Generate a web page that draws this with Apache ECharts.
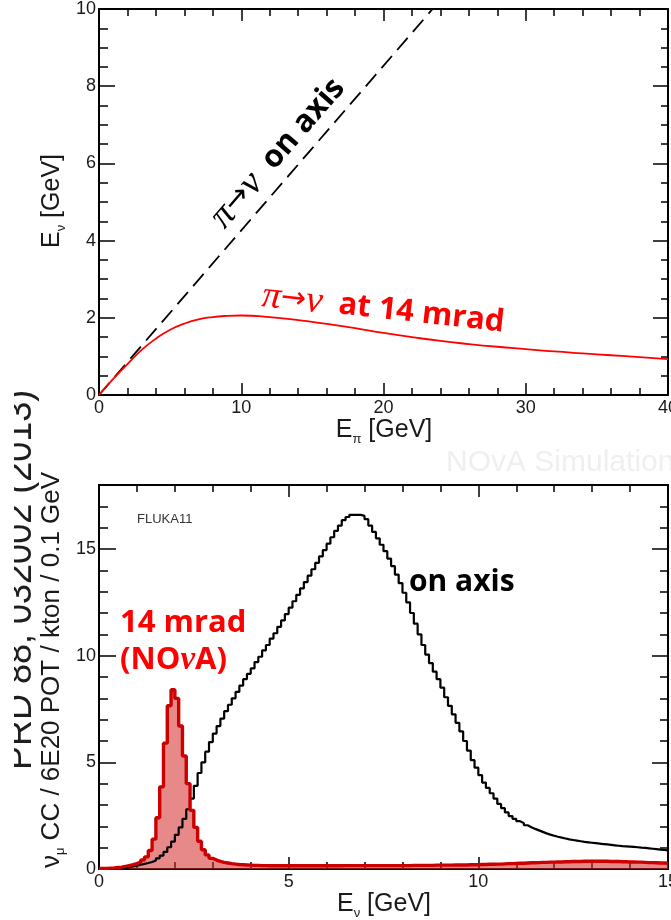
<!DOCTYPE html>
<html>
<head>
<meta charset="utf-8">
<script src="https://cdn.jsdelivr.net/npm/echarts@6.0.0/dist/echarts.min.js"></script>
<style>
html, body { margin: 0; padding: 0; background: #ffffff; }
#chart { width: 671px; height: 920px; }
</style>
</head>
<body>
<div id="chart"></div>
<script>
// ---- Top panel: neutrino energy from pion decay vs pion energy ----
const piEnergy = [0, 1, 2, 3, 4, 5, 6, 7, 8, 9, 10, 12, 14, 16, 18, 20, 22, 24, 26, 28, 30, 32, 34, 36, 38, 40];
const nuEnergy14mrad = [0, 0.42, 0.8, 1.17, 1.46, 1.69, 1.85, 1.96, 2.02, 2.05, 2.06, 2.02, 1.94, 1.84, 1.73, 1.61, 1.5, 1.4, 1.32, 1.25, 1.19, 1.13, 1.08, 1.03, 0.98, 0.93];
const onAxisPiEnergy = [0, 23.45];
const onAxisNuEnergy = [0, 10];

// ---- Bottom panel: nu_mu CC spectra, 0.1 GeV bins from 0 to 15 GeV ----
const binWidth = 0.1;
const onAxisCounts = [
  0, 0, 0, 0, 0.01, 0.02, 0.05, 0.08, 0.12, 0.16,
  0.2, 0.24, 0.28, 0.33, 0.4, 0.5, 0.63, 0.8, 1.02, 1.28,
  1.6, 1.95, 2.35, 2.8, 3.3, 3.9, 4.5, 5.0, 5.5, 5.95,
  6.35, 6.7, 7.05, 7.4, 7.7, 8.0, 8.3, 8.6, 8.9, 9.15,
  9.4, 9.7, 9.95, 10.25, 10.5, 10.8, 11.05, 11.35, 11.65, 11.95,
  12.25, 12.55, 12.85, 13.15, 13.45, 13.75, 14.05, 14.35, 14.65, 14.95,
  15.25, 15.55, 15.85, 16.1, 16.35, 16.5, 16.6, 16.6, 16.6, 16.55,
  16.4, 16.1, 15.8, 15.5, 15.2, 14.9, 14.55, 14.2, 13.8, 13.4,
  12.95, 12.5, 12.0, 11.5, 11.0, 10.5, 10.05, 9.65, 9.25, 8.9,
  8.5, 8.05, 7.65, 7.25, 6.85, 6.45, 6.0, 5.55, 5.1, 4.75,
  4.4, 4.05, 3.8, 3.55, 3.3, 3.05, 2.85, 2.65, 2.48, 2.35,
  2.24, 2.15, 2.05, 1.96, 1.88, 1.81, 1.74, 1.67, 1.61, 1.56,
  1.51, 1.47, 1.43, 1.39, 1.36, 1.33, 1.3, 1.27, 1.25, 1.23,
  1.21, 1.19, 1.17, 1.15, 1.13, 1.11, 1.09, 1.07, 1.06, 1.05,
  1.04, 1.02, 1.0, 0.99, 0.97, 0.95, 0.93, 0.91, 0.89, 0.87
];
const offAxisCounts = [
  0.03, 0.03, 0.04, 0.05, 0.07, 0.09, 0.12, 0.16, 0.2, 0.25,
  0.32, 0.42, 0.57, 0.87, 1.4, 2.4, 3.85, 5.9, 7.65, 8.4,
  8.0, 6.7, 5.3, 4.0, 2.75, 1.95, 1.3, 0.9, 0.66, 0.5,
  0.42, 0.36, 0.31, 0.28, 0.25, 0.23, 0.21, 0.2, 0.19, 0.18,
  0.17, 0.17, 0.16, 0.16, 0.15, 0.15, 0.15, 0.15, 0.15, 0.15,
  0.15, 0.15, 0.15, 0.15, 0.15, 0.15, 0.15, 0.15, 0.15, 0.15,
  0.15, 0.15, 0.15, 0.15, 0.16, 0.16, 0.16, 0.16, 0.16, 0.16,
  0.16, 0.16, 0.16, 0.16, 0.16, 0.16, 0.16, 0.16, 0.16, 0.16,
  0.16, 0.16, 0.17, 0.17, 0.17, 0.17, 0.17, 0.17, 0.18, 0.18,
  0.18, 0.18, 0.18, 0.19, 0.19, 0.19, 0.19, 0.2, 0.2, 0.2,
  0.21, 0.21, 0.22, 0.22, 0.23, 0.23, 0.24, 0.25, 0.25, 0.26,
  0.27, 0.27, 0.28, 0.29, 0.29, 0.3, 0.31, 0.31, 0.32, 0.32,
  0.33, 0.33, 0.34, 0.34, 0.35, 0.35, 0.35, 0.36, 0.36, 0.36,
  0.36, 0.36, 0.36, 0.36, 0.35, 0.35, 0.35, 0.34, 0.34, 0.33,
  0.33, 0.32, 0.32, 0.31, 0.3, 0.3, 0.29, 0.28, 0.28, 0.27
];

// Tick labels
const topXTicks = [0, 10, 20, 30, 40];
const topYTicks = [0, 2, 4, 6, 8, 10];
const bottomXTicks = [0, 5, 10, 15];
const bottomYTicks = [0, 5, 10, 15];

// Step-histogram points: left edge of each bin, plus the closing right edge
function histPoints(counts) {
  const pts = counts.map((v, i) => [+(i * binWidth).toFixed(2), v]);
  pts.push([+(counts.length * binWidth).toFixed(2), counts[counts.length - 1]]);
  return pts;
}

const SANS = "'Liberation Sans', Arial, sans-serif";
const BOLD = "'Open Sans', 'Liberation Sans', sans-serif";
const SERIF = "'Liberation Serif', 'DejaVu Serif', serif";
const ARROW = "'DejaVu Sans', sans-serif";

const tickStyle = { color: '#000', width: 1.5 };
const lineAxis = { show: true, onZero: false, lineStyle: { color: '#000', width: 2 } };
const labelStyle = { fontSize: 18, fontFamily: SANS, color: '#1a1a1a' };

function axis(o) {
  return Object.assign({
    type: 'value',
    axisLine: lineAxis,
    splitLine: { show: false },
    axisLabel: { show: false },
    minorTick: { show: false }
  }, o);
}

// rich text with a lowered small second token (axis titles)
function subTitle(main, sub, rest, size) {
  return {
    text: '{a|' + main + '}{b|' + sub + '}{a|' + rest + '}',
    align: 'center', verticalAlign: 'middle', fill: '#1a1a1a',
    rich: {
      a: { fontSize: size, fontFamily: SANS, fill: '#1a1a1a', lineHeight: 28, verticalAlign: 'top' },
      b: { fontSize: 13, fontFamily: SANS, fill: '#1a1a1a', lineHeight: 15, verticalAlign: 'bottom' }
    }
  };
}

// "pi -> nu" label prefix
function decayRich(color, textSize) {
  return {
    g: { fontSize: 38, fontFamily: SERIF, fontStyle: 'italic', fill: color },
    r: { fontSize: 30, fontFamily: ARROW, fill: color },
    t: { fontSize: textSize, fontFamily: BOLD, fontWeight: 'bold', fill: color }
  };
}

const option = {
  animation: false,
  backgroundColor: '#ffffff',
  grid: [
    { left: 99, top: 9, width: 569, height: 386, containLabel: false, outerBoundsMode: 'none' },
    { left: 99, top: 485, width: 569, height: 384, containLabel: false, outerBoundsMode: 'none' }
  ],
  xAxis: [
    axis({ gridIndex: 0, position: 'bottom', min: topXTicks[0], max: topXTicks[topXTicks.length - 1], interval: 10,
      axisTick: { inside: true, length: 12, lineStyle: tickStyle },
      minorTick: { show: true, splitNumber: 5, length: 7, lineStyle: tickStyle },
      axisLabel: Object.assign({ show: true, margin: 4, showMinLabel: true, showMaxLabel: true }, labelStyle) }),
    axis({ gridIndex: 0, position: 'top', min: 0, max: 40, interval: 10,
      axisTick: { inside: true, length: 12, lineStyle: tickStyle },
      minorTick: { show: true, splitNumber: 5, length: 7, lineStyle: tickStyle } }),
    axis({ gridIndex: 1, position: 'bottom', min: bottomXTicks[0], max: bottomXTicks[bottomXTicks.length - 1], interval: 5,
      axisTick: { inside: true, length: 12, lineStyle: tickStyle },
      minorTick: { show: true, splitNumber: 5, length: 7, lineStyle: tickStyle },
      axisLabel: Object.assign({ show: true, margin: 4, showMinLabel: true, showMaxLabel: true }, labelStyle) }),
    axis({ gridIndex: 1, position: 'top', min: 0, max: 15, interval: 5,
      axisTick: { inside: true, length: 12, lineStyle: tickStyle },
      minorTick: { show: true, splitNumber: 5, length: 7, lineStyle: tickStyle } })
  ],
  yAxis: [
    axis({ gridIndex: 0, position: 'left', min: topYTicks[0], max: topYTicks[topYTicks.length - 1], interval: 2,
      axisTick: { inside: true, length: 16, lineStyle: tickStyle },
      minorTick: { show: true, splitNumber: 4, length: 9, lineStyle: tickStyle },
      axisLabel: Object.assign({ show: true, margin: 3, showMinLabel: true, showMaxLabel: true }, labelStyle) }),
    axis({ gridIndex: 0, position: 'right', min: 0, max: 10, interval: 2,
      axisTick: { inside: true, length: 15, lineStyle: tickStyle },
      minorTick: { show: true, splitNumber: 4, length: 7, lineStyle: tickStyle } }),
    // bottom panel: minor ticks every 1
    axis({ gridIndex: 1, position: 'left', min: 0, max: 18, interval: 1,
      axisTick: { inside: true, length: 9, lineStyle: tickStyle } }),
    // bottom panel: major ticks and labels every 5
    axis({ gridIndex: 1, position: 'left', min: 0, max: 18, interval: 5,
      axisTick: { inside: true, length: 17, lineStyle: tickStyle },
      axisLabel: Object.assign({ show: true, margin: 3,
        formatter: v => (bottomYTicks.indexOf(v) >= 0 ? String(v) : '') }, labelStyle) }),
    axis({ gridIndex: 1, position: 'right', min: 0, max: 18, interval: 1,
      axisTick: { inside: true, length: 8, lineStyle: tickStyle } }),
    axis({ gridIndex: 1, position: 'right', min: 0, max: 18, interval: 5,
      axisTick: { inside: true, length: 16, lineStyle: tickStyle } })
  ],
  series: [
    {
      name: 'on axis', type: 'line', xAxisIndex: 0, yAxisIndex: 0,
      data: onAxisPiEnergy.map((e, i) => [e, onAxisNuEnergy[i]]),
      symbol: 'none', lineStyle: { color: '#000', width: 1.8, type: [16, 8] }, z: 2
    },
    {
      name: '14 mrad', type: 'line', xAxisIndex: 0, yAxisIndex: 0,
      data: piEnergy.map((e, i) => [e, nuEnergy14mrad[i]]),
      smooth: 0.5,
      symbol: 'none', lineStyle: { color: '#ff0000', width: 1.8 }, z: 3
    },
    {
      name: '14 mrad fill', type: 'line', xAxisIndex: 2, yAxisIndex: 2,
      data: histPoints(offAxisCounts), step: 'end', symbol: 'none',
      lineStyle: { width: 0 }, areaStyle: { color: 'rgba(214, 44, 44, 0.56)', opacity: 1 }, z: 2
    },
    {
      name: 'on axis spectrum', type: 'line', xAxisIndex: 2, yAxisIndex: 2,
      data: histPoints(onAxisCounts), step: 'end', symbol: 'none',
      lineStyle: { color: '#000', width: 2.2 }, z: 3
    },
    {
      name: '14 mrad spectrum', type: 'line', xAxisIndex: 2, yAxisIndex: 2,
      data: histPoints(offAxisCounts), step: 'end', symbol: 'none',
      lineStyle: { color: '#cc0000', width: 3.4 }, z: 4
    }
  ],
  graphic: { elements: [
    // citation running up the left edge, its upper part trimmed by the page edge
    { type: 'text', x: 21, y: 770, rotation: Math.PI / 2, z: 1,
      style: { text: 'PRD 88, 032002 (2013)', fontSize: 36, fontFamily: SANS, fill: '#1e1e1e', align: 'left', verticalAlign: 'middle' } },
    { type: 'rect', shape: { x: 0, y: 380, width: 14, height: 400 }, z: 2,
      style: { fill: '#ffffff' } },
    // faint watermark
    { type: 'text', x: 446, y: 463, z: 1,
      style: { text: 'NOvA Simulation', fontSize: 30, fontFamily: SANS, fill: '#efefef', align: 'left', verticalAlign: 'middle' } },
    // axis titles
    { type: 'text', x: 54, y: 201, rotation: Math.PI / 2, z: 10, style: subTitle('E', 'ν', ' [GeV]', 25) },
    { type: 'text', x: 384, y: 432, z: 10, style: subTitle('E', 'π', ' [GeV]', 25) },
    { type: 'text', x: 384, y: 906, z: 10, style: subTitle('E', 'ν', ' [GeV]', 25) },
    { type: 'text', x: 53, y: 670, rotation: Math.PI / 2, z: 10, style: subTitle('ν', 'μ', ' CC / 6E20 POT / kton / 0.1 GeV', 26) },
    // annotations, top panel
    { type: 'text', x: 278, y: 153, rotation: 49 * Math.PI / 180, z: 10,
      style: { text: '{g|π}{r|→}{g|ν}{t|  on axis}', align: 'center', verticalAlign: 'middle', fill: '#000',
        rich: decayRich('#000', 31) } },
    { type: 'text', x: 262, y: 296, rotation: -0.11, z: 10,
      style: { text: '{g|π}{r|→}{g|ν}{t|  at 14 mrad}', align: 'left', verticalAlign: 'middle', fill: '#ff0000',
        rich: decayRich('#ff0000', 31) } },
    // annotations, bottom panel
    { type: 'text', x: 137, y: 519, z: 10,
      style: { text: 'FLUKA11', fontSize: 13, fontFamily: SANS, fill: '#333', align: 'left', verticalAlign: 'middle' } },
    { type: 'text', x: 120, y: 623, z: 10,
      style: { text: '14 mrad', fontSize: 31, fontFamily: BOLD, fontWeight: 'bold', fill: '#ff0000', align: 'left', verticalAlign: 'middle' } },
    { type: 'text', x: 120, y: 660, z: 10,
      style: { text: '{t|(NO}{g|ν}{t|A)}', align: 'left', verticalAlign: 'middle', fill: '#ff0000',
        rich: { t: { fontSize: 31, fontFamily: BOLD, fontWeight: 'bold', fill: '#ff0000' },
                g: { fontSize: 33, fontFamily: SERIF, fontStyle: 'italic', fontWeight: 'bold', fill: '#ff0000' } } } },
    { type: 'text', x: 409, y: 582, z: 10,
      style: { text: 'on axis', fontSize: 30, fontFamily: BOLD, fontWeight: 'bold', fill: '#000', align: 'left', verticalAlign: 'middle' } }
  ] }
};

const chart = echarts.init(document.getElementById('chart'), null, { renderer: 'canvas', width: 671, height: 920 });
chart.setOption(option);
</script>
</body>
</html>
